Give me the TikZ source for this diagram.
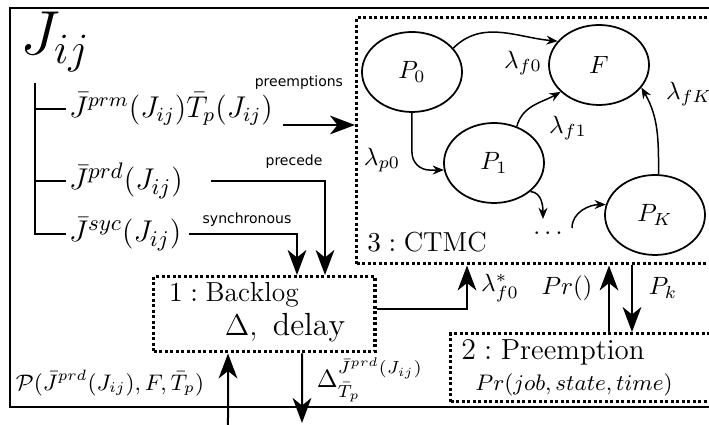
\documentclass[tikz,border=0pt]{standalone}
\usepackage{amsmath,amssymb}
\usepackage{fontspec}
\newfontfamily\lblfont{DejaVu Sans}
\usetikzlibrary{arrows.meta,positioning,shapes.geometric}

\begin{document}
\begin{tikzpicture}[
		x=0.4pt,y=0.4pt,
		>={Stealth[length=10pt,width=7.5pt,inset=3pt]},
		every node/.style={font=\normalsize},
		stnode/.style={ellipse,draw,line width=0.7pt,minimum width=40pt,minimum height=32pt,inner sep=0pt},
		trans/.style={->,line width=0.6pt,>={Stealth[length=4.5pt,width=3.6pt,inset=1.5pt]}},
		flow/.style={->,line width=0.8pt},
		dotbox/.style={draw,line width=1.4pt,dash pattern=on 1.2pt off 1pt,inner sep=0pt},
		lbl/.style={font=\lblfont\fontsize{5.6}{6}\selectfont,inner sep=1pt},
		jlbl/.style={font=\large,inner sep=1pt,anchor=west}
		]
		
		\useasboundingbox (0,0) rectangle (709,425);
		\clip (0,0) rectangle (709,425);
		
		% =========================
		% Outer frame and job tree
		% =========================
		\draw[line width=0.6pt] (10,18) rectangle (740,417);
		\node (jij) at (55,383) {\fontsize{24}{26}\selectfont $J_{ij}$};
		
		\node[jlbl] (prm) at (66,316) {$\bar{J}^{prm}(J_{ij})\bar{T}_p(J_{ij})$};
		\node[jlbl,font=\fontsize{13}{15}\selectfont] (prd) at (66,244) {$\bar{J}^{prd}(J_{ij})$};
		\node[jlbl,font=\fontsize{13}{15}\selectfont] (syc) at (66,191) {$\bar{J}^{syc}(J_{ij})$};
		
		\coordinate (trunk) at (35,342);
		\draw[line width=0.6pt] (trunk) |- (syc.west);
		\draw[line width=0.6pt] (trunk |- prm.west) -- (prm.west);
		\draw[line width=0.6pt] (trunk |- prd.west) -- (prd.west);
		
		% =========================
		% Boxes
		% =========================
		\node[dotbox,anchor=north west,minimum width=88.4pt,minimum height=30pt] (backlog) at (152,150) {};
		\node[dotbox,anchor=north west,minimum width=154pt,minimum height=98.4pt] (ctmc) at (355,409) {};
		\node[dotbox,anchor=north west,minimum width=112pt,minimum height=27.2pt] (pre) at (449,93) {};
		
		\node[font=\fontsize{11}{13}\selectfont] (backlogtxt) at (234,130) {$1:\mathrm{Backlog}$};
		\node[font=\fontsize{12.8}{15}\selectfont] (delaytxt) at (285,97) {$\Delta,\ \mathrm{delay}$};
		\node[font=\fontsize{11}{13}\selectfont] (ctmctxt) at (427,183) {$3:\mathrm{CTMC}$};
		\node[font=\fontsize{11.6}{14}\selectfont] (pretxt) at (553,73) {$2:\mathrm{Preemption}$};
		\node[font=\fontsize{8.6}{10}\selectfont] (prtxt) at (574,40) {$Pr(job,state,time)$};
		
		% =========================
		% CTMC states
		% =========================
		\node[stnode] (p0) at (412,353) {$P_0$};
		\node[stnode] (f) at (599,360) {$F$};
		\node[stnode] (p1) at (494,262) {$P_1$};
		\node[stnode] (pk) at (655,210) {$P_K$};
		\node (dots) at (550,192) {$\dots$};
		\coordinate (din) at (543,206);
		\coordinate (dout) at (572,197);
		
		\draw[trans] (p0.30) to[out=45,in=175] (f.150);
		\draw[trans,rounded corners=7pt] (p0.south) |- (p1.188);
		\draw[trans] (p1.58) to[out=75,in=-150] (f.215);
		\draw[trans] (pk.85) to[out=90,in=-60] (f.-28);
		\draw[trans] (p1.-38) to[out=-5,in=90] (din);
		\draw[trans] (dout) to[out=90,in=180] (pk.168);
		
		\node (lf0) at (523,362) {$\lambda_{f0}$};
		\node (lp0) at (382,265) {$\lambda_{p0}$};
		\node (lf1) at (568,297) {$\lambda_{f1}$};
		\node (lfk) at (689,331) {$\lambda_{fK}$};
		
		% =========================
		% Flows between boxes
		% =========================
		\coordinate (pa) at (283,300);
		\draw[flow] (pa) -- (pa -| ctmc.west);
		\node[lbl,anchor=east] (tpre) at (346,342) {preemptions};
		
		\draw[flow] ([xshift=10pt]prd.east) -| ([xshift=69.2pt]backlog.north west);
		\node[lbl] (tprec) at (294,263) {precede};
		\draw[flow] ([xshift=2pt]syc.east) -| ([xshift=58pt]backlog.north west);
		\node[lbl] (tsyn) at (247,205) {synchronous};
		
		\draw[flow] ([yshift=2.2pt]backlog.east) -| ([xshift=44.8pt]ctmc.south west);
		\node (lfstar) at (500,137) {$\lambda^{*}_{f0}$};
		
		\draw[flow] ([xshift=64pt]pre.north west) -- ([xshift=64pt]pre.north west |- ctmc.south);
		\draw[flow] ([xshift=73.2pt]pre.north west |- ctmc.south) -- ([xshift=73.2pt]pre.north west);
		\node (lpr) at (567,137) {$Pr()$};
		\node (lpk) at (663,137) {$P_k$};
		
		\coordinate (inb) at (228,-5);
		\coordinate (outb) at (302,2);
		\draw[flow] (inb) -- ([xshift=30.4pt]backlog.south west);
		\draw[flow] ([xshift=60pt]backlog.south west) -- (outb);
		\node[font=\small] (lprob) at (110,42) {$\mathcal{P}(\bar{J}^{prd}(J_{ij}),F,\bar{T}_p)$};
		\node[anchor=west] (ldel) at (308,45) {$\Delta^{\bar{J}^{prd}(J_{ij})}_{\bar{T}_p}$};
		
	\end{tikzpicture}
\end{document}
